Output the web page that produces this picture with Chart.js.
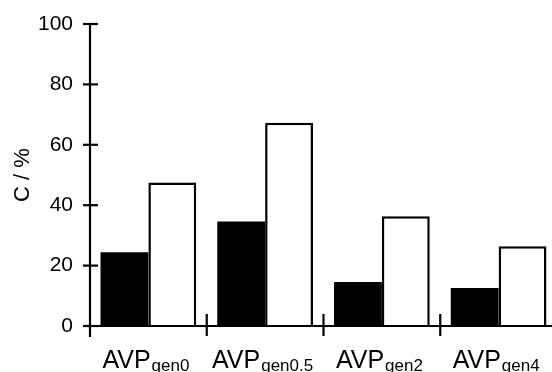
<!DOCTYPE html>
<html>
<head>
<meta charset="utf-8">
<script src="https://cdn.jsdelivr.net/npm/chart.js@4/dist/chart.umd.min.js"></script>
<style>
html,body{margin:0;padding:0;background:#fff;overflow:hidden;}
#wrap{width:552px;height:372px;overflow:hidden;position:relative;}
#box{width:562px;height:378px;position:absolute;left:0;top:-6px;}
</style>
</head>
<body>
<div id="wrap"><div id="box"><canvas id="c"></canvas></div></div>
<script>
const labelMain = ['AVP', 'AVP', 'AVP', 'AVP'];
const labelSub = ['gen0', 'gen0.5', 'gen2', 'gen4'];
const categories = labelMain.map((m, i) => m + labelSub[i]);
const seriesBlack = [24.4, 34.6, 14.6, 12.6];
const seriesWhite = [47.5, 67.3, 36.3, 26.4];
const yTicks = [0, 20, 40, 60, 80, 100];
const yTitle = 'C / %';

const FONT = '"Liberation Sans", Arial, Helvetica, sans-serif';

const axesPlugin = {
  id: 'axesPlugin',
  afterDraw(chart) {
    const ctx = chart.ctx;
    const a = chart.chartArea;
    const xs = chart.scales.x, ys = chart.scales.y;
    ctx.save();
    ctx.strokeStyle = '#000';
    ctx.lineWidth = 2.2;
    ctx.lineCap = 'butt';
    ctx.beginPath();
    ctx.moveTo(a.left, ys.getPixelForValue(100) - 1);
    ctx.lineTo(a.left, a.bottom + 11);
    ctx.stroke();
    yTicks.forEach(v => {
      const y = ys.getPixelForValue(v);
      ctx.beginPath();
      ctx.moveTo(a.left - 7, y);
      ctx.lineTo(a.left + 8, y);
      ctx.stroke();
    });
    ctx.beginPath();
    ctx.moveTo(a.left, a.bottom);
    ctx.lineTo(chart.width, a.bottom);
    ctx.stroke();
    for (let i = 1; i < categories.length; i++) {
      const x = (xs.getPixelForValue(i - 1) + xs.getPixelForValue(i)) / 2;
      ctx.beginPath();
      ctx.moveTo(x, a.bottom - 12);
      ctx.lineTo(x, a.bottom + 10);
      ctx.stroke();
    }
    ctx.fillStyle = '#000';
    ctx.textBaseline = 'alphabetic';
    ctx.textAlign = 'left';
    const base = a.bottom + 42;
    categories.forEach((c, i) => {
      const cx = xs.getPixelForValue(i);
      ctx.font = '25px ' + FONT;
      const w1 = ctx.measureText(labelMain[i]).width;
      ctx.font = '17px ' + FONT;
      const w2 = ctx.measureText(labelSub[i]).width;
      const x0 = cx - (w1 + w2) / 2 - 3;
      ctx.font = '25px ' + FONT;
      ctx.fillText(labelMain[i], x0, base);
      ctx.font = '17px ' + FONT;
      ctx.fillText(labelSub[i], x0 + w1 + 1, base + 3);
    });
    ctx.restore();
  }
};

new Chart(document.getElementById('c'), {
  type: 'bar',
  data: {
    labels: categories,
    datasets: [
      {
        label: 'black',
        data: seriesBlack,
        backgroundColor: '#000',
        borderColor: '#000',
        borderWidth: 0
      },
      {
        label: 'white',
        data: seriesWhite,
        backgroundColor: '#fff',
        borderColor: '#000',
        borderWidth: 2.5,
        borderSkipped: 'bottom'
      }
    ]
  },
  options: {
    responsive: true,
    maintainAspectRatio: false,
    animation: false,
    events: [],
    layout: { padding: { top: 30, right: 5, left: 0, bottom: 0 } },
    plugins: { legend: { display: false }, tooltip: { enabled: false } },
    datasets: { bar: { categoryPercentage: 0.82, barPercentage: 1.0 } },
    scales: {
      x: {
        type: 'category',
        offset: true,
        grid: { display: false },
        border: { display: false },
        ticks: { display: false },
        afterFit(scale) { scale.height = 46; }
      },
      y: {
        min: 0,
        max: 100,
        afterBuildTicks(scale) { scale.ticks = yTicks.map(v => ({ value: v })); },
        grid: { display: false },
        border: { display: false },
        ticks: {
          color: '#000',
          padding: 9,
          font: { size: 21, family: FONT },
          callback: v => String(v)
        },
        title: {
          display: true,
          text: yTitle,
          color: '#000',
          font: { size: 22, family: FONT },
          padding: { top: 10, bottom: 0 }
        },
        afterFit(scale) { scale.width = 90; }
      }
    }
  },
  plugins: [axesPlugin]
});
</script>
</body>
</html>
